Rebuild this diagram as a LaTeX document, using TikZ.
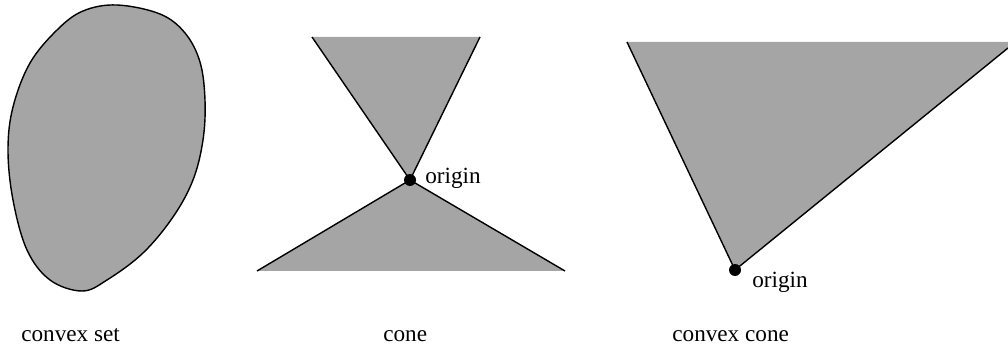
\documentclass[tikz,border=0pt]{standalone}
\usepackage{fontspec}
\setmainfont{Liberation Serif}
\usepackage{tikz}
\usetikzlibrary{positioning}
\definecolor{setfill}{RGB}{165,165,165}

\begin{document}
\begin{tikzpicture}[x=0.02cm, y=-0.02cm, font=\fontsize{13.2pt}{16pt}\selectfont,
    region/.style={fill=setfill, draw=none},
    edge/.style={draw=black, line width=0.8pt, line join=round},
    caption/.style={anchor=base west, inner sep=0pt},
    dot/.style={circle, fill=black, inner sep=0pt, minimum size=0.24cm}]
  \useasboundingbox (0,0) rectangle (1008,351);

  % convex set
  \draw[region, edge] plot[smooth cycle, tension=0.6] coordinates {
    (117,5) (160,14) (185,33) (200,62) (205,100) (203,140) (193,180) (173,217)
    (143,253) (107,280) (82,291) (50,280) (27,250) (13,200) (8,150)
    (13,107) (30,63) (57,30) (83,11)};
  \node[caption] (setlbl) at (21,341) {convex set};

  % cone
  \coordinate (o1) at (410,180);
  \coordinate (tl) at (312,37);
  \coordinate (tr) at (480,37);
  \coordinate (bl) at (257,271);
  \coordinate (br) at (565,271);
  \fill[region] (tl) -- (tr) -- (o1) -- cycle;
  \fill[region] (bl) -- (br) -- (o1) -- cycle;
  \draw[edge] (tl) -- (o1) -- (tr);
  \draw[edge] (bl) -- (o1) -- (br);
  \node[dot] (org1) at (o1) {};
  \node[caption] (orglbl1) at (425,184) {origin};
  \node[caption] (conelbl) at (383,341) {cone};

  % convex cone
  \coordinate (o2) at (735,270);
  \coordinate (cl) at (627,42);
  \coordinate (cr) at (1008,48);
  \fill[region] (cl) -- (1008,42) -- (cr) -- (o2) -- cycle;
  \draw[edge] (cl) -- (o2) -- (cr);
  \node[dot] (org2) at (o2) {};
  \node[caption] (orglbl2) at (752,288) {origin};
  \node[caption] (cvxlbl) at (672,341) {convex cone};
\end{tikzpicture}
\end{document}
